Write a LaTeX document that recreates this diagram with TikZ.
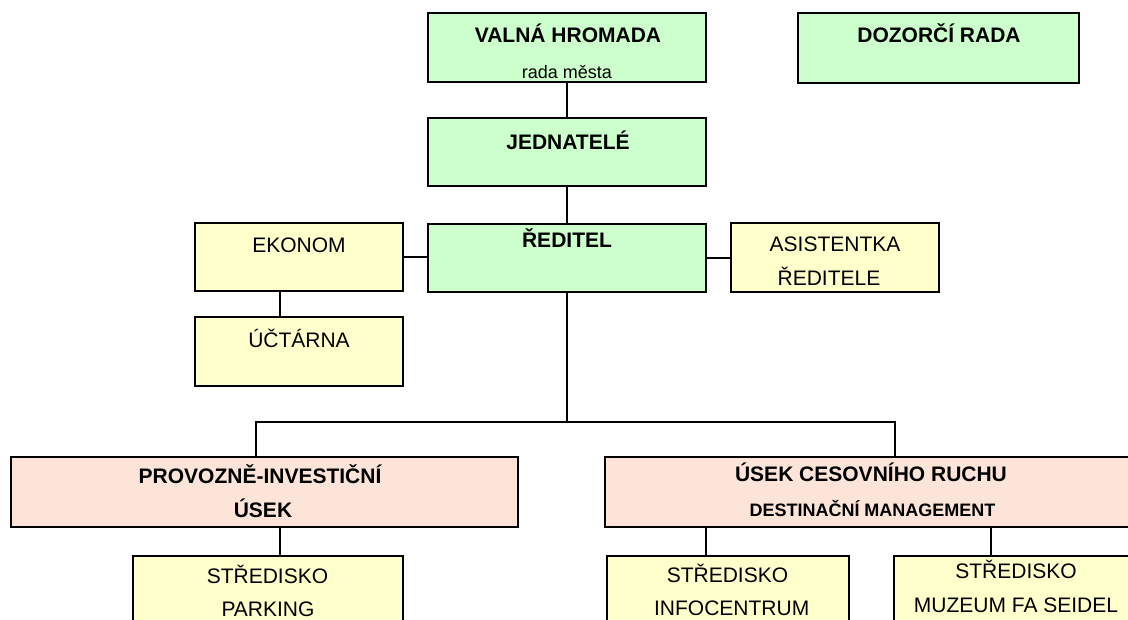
\documentclass[tikz,border=0pt]{standalone}
\usepackage{fontspec}
\setmainfont{Liberation Sans}
\definecolor{gfill}{HTML}{CCFFCC}
\definecolor{yfill}{HTML}{FFFFCC}
\definecolor{pfill}{HTML}{FCE5D8}
\begin{document}
\begin{tikzpicture}[x=1pt,y=-1pt,
  box/.style={draw=black, line width=2pt, rectangle, inner sep=0pt},
  gbox/.style={box, fill=gfill},
  ybox/.style={box, fill=yfill},
  pbox/.style={box, fill=pfill},
  link/.style={draw=black, line width=2pt},
  bigb/.style={anchor=base, inner sep=0pt, font=\fontsize{21}{25}\selectfont\bfseries},
  smallb/.style={anchor=base, inner sep=0pt, font=\fontsize{18}{22}\selectfont\bfseries},
  bigr/.style={anchor=base, inner sep=0pt, font=\fontsize{21}{25}\selectfont},
  smallr/.style={anchor=base, inner sep=0pt, font=\fontsize{18}{22}\selectfont}]
\useasboundingbox (0,0) rectangle (1128,619);
\fill[white] (0,0) rectangle (1128,619);
\clip (0,0) rectangle (1128,619);

% boxes
\node[gbox, minimum width=278, minimum height=69] (valna) at (567,47.5) {};
\node[gbox, minimum width=281, minimum height=70] (dozorci) at (938.5,48) {};
\node[gbox, minimum width=278, minimum height=68] (jednatele) at (567,152) {};
\node[gbox, minimum width=278, minimum height=68] (reditel) at (567,258) {};
\node[ybox, minimum width=208, minimum height=68] (ekonom) at (299,257) {};
\node[ybox, minimum width=208, minimum height=69] (asist) at (835,257.5) {};
\node[ybox, minimum width=208, minimum height=69] (uctarna) at (299,351.5) {};
\node[pbox, minimum width=507, minimum height=70] (provoz) at (264.5,492) {};
\node[pbox, minimum width=532, minimum height=70] (usek) at (871,492) {};
\node[ybox, minimum width=270, minimum height=104] (parking) at (268,608) {};
\node[ybox, minimum width=242, minimum height=104] (info) at (728,608) {};
\node[ybox, minimum width=244, minimum height=104] (muzeum) at (1016,608) {};

% bus coordinates
\coordinate (busL) at (256,422);
\coordinate (busR) at (895,422);

% connectors
\draw[link] (valna.south) -- (jednatele.north);
\draw[link] (jednatele.south) -- (reditel.north);
\draw[link] (ekonom.east) -- (ekonom.east -| reditel.west);
\draw[link] (asist.west) -- (asist.west -| reditel.east);
\draw[link] ([xshift=-19pt]uctarna.north) -- ([xshift=-19pt]uctarna.north |- ekonom.south);
\draw[link] (reditel.south) -- (reditel.south |- busL);
\draw[link] (provoz.north -| busL) -- (busL) -- (busR) -- (usek.north -| busR);
\draw[link] ([xshift=12pt]parking.north) -- ([xshift=12pt]parking.north |- provoz.south);
\draw[link] ([xshift=-22pt]info.north) -- ([xshift=-22pt]info.north |- usek.south);
\draw[link] ([xshift=-25pt]muzeum.north) -- ([xshift=-25pt]muzeum.north |- usek.south);

% texts
\node[bigb] (tvalna) at (568,42.5) {VALNÁ HROMADA};
\node[smallr] (trada) at (567,78.5) {rada města};
\node[bigb] (tdoz) at (939,42.5) {DOZORČÍ RADA};
\node[bigb] (tjed) at (568,149.5) {JEDNATELÉ};
\node[bigb] (tred) at (567,247.5) {ŘEDITEL};
\node[bigr] (tek) at (299,252.5) {EKONOM};
\node[bigr] (tuct) at (299,347) {ÚČTÁRNA};
\node[bigr] (tas1) at (835,251.5) {ASISTENTKA};
\node[bigr] (tas2) at (829,285.5) {ŘEDITELE};
\node[bigb] (tpr1) at (260,483.5) {PROVOZNĚ-INVESTIČNÍ};
\node[bigb] (tpr2) at (263,517.5) {ÚSEK};
\node[bigb] (tus1) at (871,481) {ÚSEK CESOVNÍHO RUCHU};
\node[smallb] (tus2) at (872.5,516) {DESTINAČNÍ MANAGEMENT};
\node[bigr] (tpa1) at (267.5,583) {STŘEDISKO};
\node[bigr] (tpa2) at (268,616) {PARKING};
\node[bigr] (tin1) at (727.5,582.5) {STŘEDISKO};
\node[bigr] (tin2) at (731.7,615) {INFOCENTRUM};
\node[bigr] (tmu1) at (1016,578.7) {STŘEDISKO};
\node[bigr] (tmu2) at (1016,612.5) {MUZEUM FA SEIDEL};
\end{tikzpicture}
\end{document}
